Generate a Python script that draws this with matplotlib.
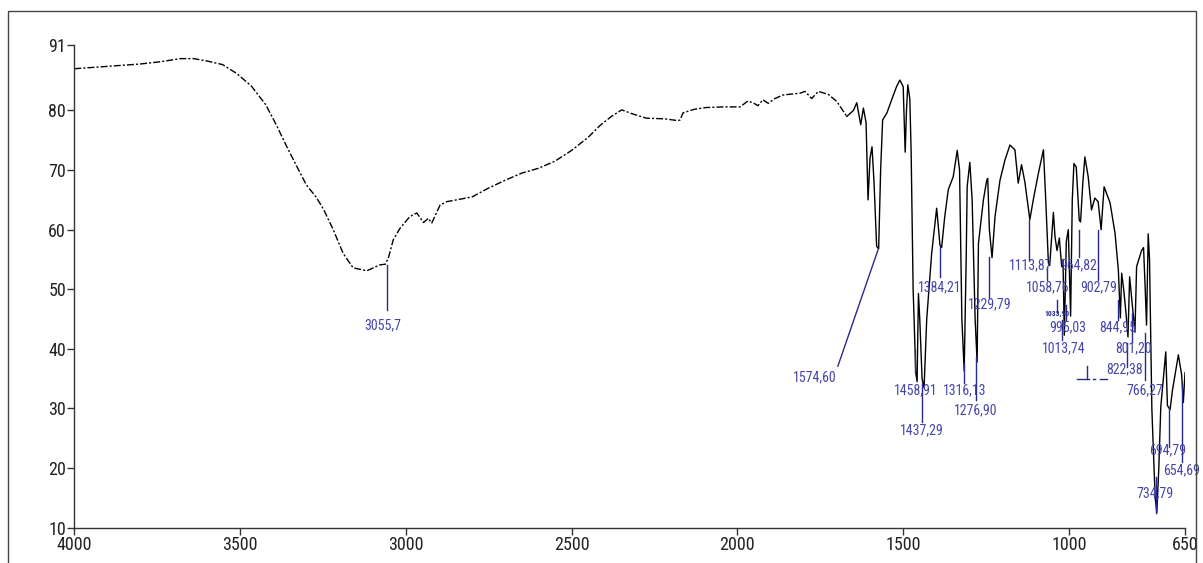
import matplotlib
matplotlib.use("Agg")
import matplotlib.pyplot as plt
from matplotlib import font_manager
from matplotlib.patches import Rectangle

# ---------------- data ----------------
wavenumber = [4000, 3900, 3800, 3737, 3680, 3640, 3600, 3553, 3510, 3466, 3423, 3390,
              3358, 3326, 3300, 3271, 3249, 3219, 3189, 3159, 3118, 3078, 3062, 3053,
              3038, 3018, 2988, 2967, 2947, 2932, 2922, 2897, 2877, 2847, 2800, 2750,
              2700, 2650, 2600, 2550, 2500, 2450, 2414, 2380, 2349, 2315, 2274, 2220,
              2180, 2173, 2164, 2130, 2093, 2040, 1992, 1968, 1950, 1938, 1923, 1907,
              1887, 1862, 1811, 1796, 1776, 1756, 1726, 1700, 1670, 1650, 1640, 1628,
              1620, 1612, 1606, 1600, 1594, 1588, 1580, 1574, 1568, 1562, 1549, 1530,
              1520, 1510, 1500, 1494, 1490, 1486, 1480, 1476, 1470, 1462, 1458, 1454,
              1450, 1443, 1437, 1429, 1414, 1399, 1389, 1384, 1375, 1364, 1349, 1337,
              1330, 1323, 1316, 1310, 1307, 1299, 1292, 1283, 1277, 1273, 1258, 1248,
              1245, 1240, 1232, 1223, 1208, 1193, 1178, 1163, 1153, 1143, 1133, 1118,
              1106, 1092, 1077, 1070, 1062, 1058, 1047, 1042, 1036, 1029, 1022, 1018,
              1014, 1008, 1002, 995, 990, 985, 978, 969, 965, 958, 952, 942,
              932, 922, 912, 903, 898, 894, 876, 861, 851, 845, 841, 835,
              828, 822, 817, 810, 801, 796, 781, 775, 770, 766, 761, 757,
              750, 740, 735, 729, 723, 708, 703, 695, 688, 670, 660, 655, 650]
transmittance = [87.0, 87.4, 87.8, 88.2, 88.7, 88.7, 88.3, 87.7, 86.2, 84.1, 81.0, 77.5,
                 73.8, 70.3, 67.5, 65.5, 63.5, 60.0, 56.0, 53.6, 53.1, 54.1, 54.2, 55.2,
                 58.3, 60.2, 62.2, 62.8, 61.2, 61.9, 61.1, 64.1, 64.7, 65.0, 65.5, 67.0,
                 68.3, 69.5, 70.3, 71.5, 73.3, 75.5, 77.5, 79.0, 80.1, 79.4, 78.7, 78.6,
                 78.3, 78.4, 79.6, 80.2, 80.5, 80.6, 80.6, 81.6, 81.2, 80.8, 81.8, 81.2,
                 82.0, 82.6, 82.9, 83.2, 82.0, 83.2, 82.7, 81.5, 79.0, 80.0, 81.3, 77.6,
                 80.4, 78.0, 65.0, 72.0, 73.9, 68.0, 57.2, 56.8, 70.0, 78.4, 79.6, 82.5,
                 84.0, 85.1, 84.0, 73.0, 80.0, 84.3, 82.0, 73.0, 50.0, 36.0, 34.5, 49.3,
                 45.0, 35.0, 33.5, 45.0, 56.1, 63.6, 57.4, 57.0, 62.0, 66.7, 68.9, 73.3,
                 70.0, 45.0, 36.3, 55.0, 67.2, 71.3, 65.0, 45.0, 37.8, 57.7, 65.0, 68.3,
                 68.6, 60.0, 55.3, 62.2, 68.3, 71.7, 74.2, 73.4, 67.8, 70.9, 68.0, 61.7,
                 65.5, 69.5, 73.4, 65.0, 54.4, 54.0, 62.9, 58.8, 56.5, 58.6, 53.8, 55.0,
                 42.3, 58.0, 60.0, 45.5, 65.0, 71.1, 70.5, 61.6, 61.3, 68.0, 72.2, 68.9,
                 63.3, 65.3, 64.7, 60.0, 64.0, 67.2, 64.5, 59.4, 53.2, 45.2, 52.7, 50.0,
                 46.0, 42.0, 52.1, 48.0, 42.8, 53.8, 56.5, 57.0, 50.0, 44.0, 59.3, 55.0,
                 30.0, 15.0, 12.5, 20.0, 30.3, 39.5, 30.5, 29.8, 33.0, 39.0, 35.6, 31.0, 36.0]

# peak labels: text, text position (wavenumber, %T), leader line (x0, y0, x1, y1)
peak_text = ["3055,7", "1574,60", "1458,91", "1437,29", "1316,13", "1276,90", "1384,21",
             "1229,79", "1113,87", "1058,76", "964,82", "902,79", "995,03", "1013,74",
             "844,95", "801,20", "822,38", "766,27", "694,79", "654,69", "734,79"]
peak_tx = [3069, 1766, 1462, 1444, 1315, 1281, 1389, 1238, 1115, 1063, 970, 910, 1003, 1015,
           852, 804, 831, 771, 701, 659, 741]
peak_ty = [44.0, 35.3, 33.1, 26.4, 33.1, 29.7, 50.4, 47.4, 54.1, 50.3, 54.1, 50.3, 43.7, 40.1,
           43.6, 40.1, 36.6, 33.1, 23.0, 19.7, 15.8]
lead_x0 = [3055.7, 1697, 1464, 1444, 1318, 1280, 1389, 1241, 1121, 1066, 969, 913, 1008, 1022,
           851, 811, 826, 771, 698, 660, 738]
lead_y0 = [54.1, 37.1, 39.8, 34.3, 37.6, 38.6, 57.1, 55.4, 61.6, 53.7, 60.0, 60.0, 47.3, 44.8,
           48.2, 46.0, 41.0, 42.7, 30.3, 33.9, 18.5]
lead_x1 = [3055.7, 1576, 1464, 1444, 1318, 1280, 1389, 1241, 1121, 1066, 969, 913, 1008, 1022,
           851, 811, 826, 771, 698, 660, 738]
lead_y1 = [46.5, 56.6, 36.1, 27.8, 34.3, 31.4, 52.0, 48.5, 54.9, 51.6, 55.4, 51.6, 44.8, 41.5,
           44.8, 41.2, 37.0, 34.8, 23.5, 21.0, 12.4]

x_ticks = [4000, 3500, 3000, 2500, 2000, 1500, 1000, 650]
y_ticks = [10, 20, 30, 40, 50, 60, 70, 80, 91]

# ---------------- fonts ----------------
def pick(names):
    for n in names:
        try:
            font_manager.findfont(font_manager.FontProperties(family=n), fallback_to_default=False)
            return n
        except Exception:
            pass
    return "DejaVu Sans"

narrow = pick(["Liberation Sans Narrow", "Arial Narrow", "Roboto Condensed", "Open Sans Condensed",
               "Liberation Sans"])
plt.rcParams['font.family'] = [narrow, 'DejaVu Sans']

# ---------------- figure ----------------
W, H = 1203, 563
fig = plt.figure(figsize=(W / 100, H / 100), dpi=100)
fig.patch.set_facecolor("white")
fig.patches.append(Rectangle((8 / W, -0.05), (1196 - 8) / W, 1.05 - 10.8 / H,
                             transform=fig.transFigure, fill=False, edgecolor="#444444",
                             linewidth=1.0))

ax = fig.add_axes([74.3 / W, 35.3 / H, (1185 - 74.3) / W, (527.7 - 44.9) / H])
ax.set_xlim(4000, 650)
ax.set_ylim(10, 91)

# spectrum: broad region drawn thin / broken like the low-res original
split = 1660
x_a = [w for w in wavenumber if w >= split]
y_a = [t for w, t in zip(wavenumber, transmittance) if w >= split]
x_b = [w for w in wavenumber if w <= 1670]
y_b = [t for w, t in zip(wavenumber, transmittance) if w <= 1670]
ax.plot(x_a, y_a, color="black", linewidth=1.0, dashes=(5, 1.5, 1.5, 1.5))
ax.plot(x_b, y_b, color="black", linewidth=1.0)

blue_txt = "#4646a8"
blue_ln = "#2a2a8c"
for i, t in enumerate(peak_text):
    ax.plot([lead_x0[i], lead_x1[i]], [lead_y0[i], lead_y1[i]], color=blue_ln, linewidth=1.0)
    ax.text(peak_tx[i], peak_ty[i], t, color=blue_txt, fontsize=10, ha="center", va="center")

# tiny overlapped label
ax.plot([1037, 1037], [48.2, 46.2], color=blue_ln, linewidth=1.0)
ax.text(1036, 46.0, "1033,90", color=blue_ln, fontsize=5.5, fontweight="bold",
        ha="center", va="center")
# small stray marks
ax.plot([975, 940], [35.0, 35.0], color=blue_ln, linewidth=1.0)
ax.plot([946, 946], [37.2, 35.0], color=blue_ln, linewidth=1.0)
ax.plot([928, 922], [35.0, 35.0], color=blue_ln, linewidth=1.0)
ax.plot([905, 885], [35.0, 35.0], color=blue_ln, linewidth=1.0)

for s in ["top", "right"]:
    ax.spines[s].set_visible(False)
for s in ["left", "bottom"]:
    ax.spines[s].set_color("#333333")
    ax.spines[s].set_linewidth(1.0)

ax.set_xticks(x_ticks)
ax.set_xticklabels([str(v) for v in x_ticks])
ax.set_yticks(y_ticks)
ax.set_yticklabels([str(v) for v in y_ticks])
ax.tick_params(axis="both", direction="out", length=5, width=1.0, color="#333333",
               labelsize=13, labelcolor="#222222", pad=1)

fig.savefig("out.png", dpi=100)
